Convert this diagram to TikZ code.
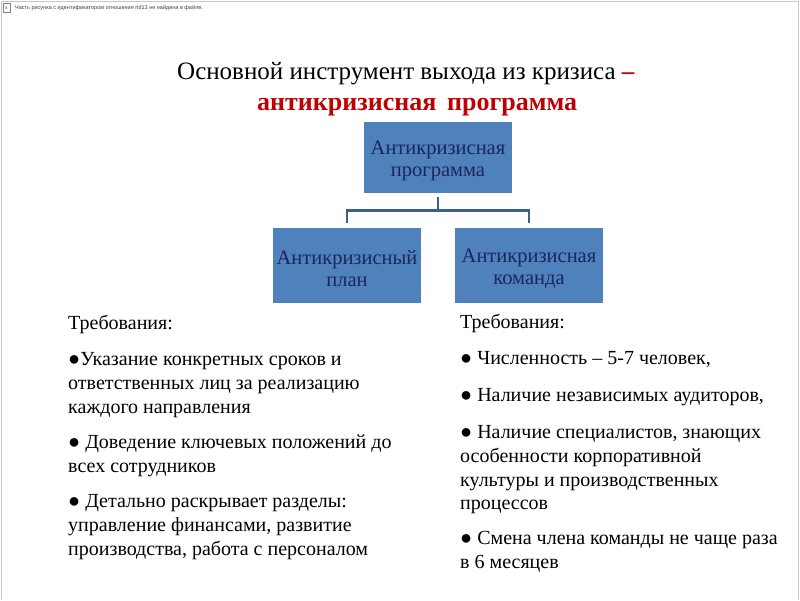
\documentclass[tikz,border=0pt]{standalone}
\usepackage{fontspec}
\setmainfont{Liberation Serif}
\newfontfamily\uisans{Liberation Sans}
\definecolor{boxfill}{HTML}{4F81BD}
\definecolor{boxtext}{HTML}{1A2660}
\definecolor{connc}{HTML}{3E5F8C}
\definecolor{titlered}{HTML}{C00000}
\definecolor{framegray}{HTML}{C8C8C8}
\begin{document}
\begin{tikzpicture}[x=1pt,y=-1pt,
  box/.style={draw=none,fill=boxfill,text=boxtext,minimum width=148pt,align=center,
    font=\fontsize{20.5}{22}\selectfont,inner sep=0pt},
  conn/.style={draw=connc,line width=2.8pt},
  txt/.style={anchor=base west,inner sep=0pt,font=\fontsize{20}{24}\selectfont},
  ttl/.style={anchor=base west,inner sep=0pt,font=\fontsize{25}{30}\selectfont}]
\useasboundingbox (0,0) rectangle (800,600);
\fill[white] (0,0) rectangle (800,600);
% frame
\draw[framegray,line width=1pt] (1.5,600) -- (1.5,1.5) -- (798.5,1.5) -- (798.5,600);
% missing picture placeholder
\node[draw=gray,fill=white,minimum width=6.5pt,minimum height=9pt,inner sep=0pt] (ph) at (6.5,8) {};
\node[text=red,inner sep=0pt,font=\uisans\fontsize{5}{5}\selectfont] (phx) at (ph.center) {x};
\node[anchor=west,inner sep=0pt,text=black!75,font=\uisans\fontsize{5.5}{6}\selectfont] (phtext) at (15,8) {Часть рисунка с идентификатором отношения rId13 не найдена в файле.};
% title
\node[ttl] (t1) at (177,79.5) {Основной инструмент выхода из кризиса \textcolor{titlered}{\textbf{–}}};
\node[ttl,text=titlered,font=\fontsize{26}{30}\selectfont\bfseries] (t2) at (257,110) {антикризисная\, программа};
% boxes
\node[box,minimum height=71pt] (top) at (438,157.5) {\rule{0pt}{20pt}Антикризисная\\программа};
\node[box,minimum height=75pt] (left) at (347,265.5) {\rule{0pt}{20pt}Антикризисный\\план};
\node[box,minimum height=75pt] (right) at (529,265.5) {\rule{0pt}{20pt}Антикризисная\\команда};
% connectors
\draw[conn] ([yshift=-4pt]top.south) -- ++(0,13) -| ([yshift=5pt]left.north);
\draw[conn] ([yshift=-4pt]top.south) -- ++(0,13) -| ([yshift=5pt]right.north);
% left text
\node[txt] (l1) at (68,329) {Требования:};
\node[txt] (l2) at (68,365) {●Указание конкретных сроков и};
\node[txt] (l3) at (68,389) {ответственных лиц за реализацию};
\node[txt] (l4) at (68,413) {каждого направления};
\node[txt] (l5) at (68,448) {● Доведение ключевых положений до};
\node[txt] (l6) at (68,472) {всех сотрудников};
\node[txt] (l7) at (68,507) {● Детально раскрывает разделы:};
\node[txt] (l8) at (68,531) {управление финансами, развитие};
\node[txt] (l9) at (68,555) {производства, работа с персоналом};
% right text
\node[txt] (r1) at (460,328) {Требования:};
\node[txt] (r2) at (460,364) {● Численность – 5-7 человек,};
\node[txt] (r3) at (460,401) {● Наличие независимых аудиторов,};
\node[txt] (r4) at (460,438) {● Наличие специалистов, знающих};
\node[txt] (r5) at (460,462) {особенности корпоративной};
\node[txt] (r6) at (460,486) {культуры и производственных};
\node[txt] (r7) at (460,509) {процессов};
\node[txt] (r8) at (460,544) {● Смена члена команды не чаще раза};
\node[txt] (r9) at (460,568) {в 6 месяцев};
\end{tikzpicture}
\end{document}
